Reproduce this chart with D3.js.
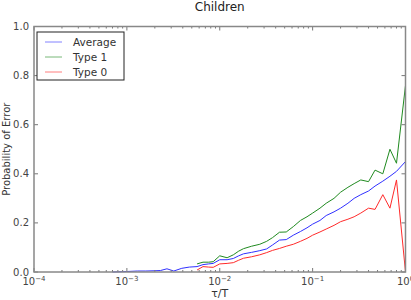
<!DOCTYPE html>
<html>
<head>
<meta charset="utf-8">
<script src="https://cdn.jsdelivr.net/npm/d3@7"></script>
<style>
  html, body { margin: 0; padding: 0; background: #fff; }
  svg { display: block; font-family: "DejaVu Sans", sans-serif; }
  .tick text { fill: #444; }
</style>
</head>
<body>
<svg id="chart" width="411" height="300"></svg>
<script>
const title = "Children";
const xLabel = "\u03c4/T";
const yLabel = "Probability of Error";
const xTickExps = [-4, -3, -2, -1, 0];
const yTicks = [0, 0.2, 0.4, 0.6, 0.8, 1.0];

const avgX = [7e-4, 1e-3, 1.3e-3, 1.6e-3, 2e-3, 2.3e-3, 2.7e-3, 3.2e-3, 3.9e-3, 4.7e-3,
  5.7e-3, 6.6e-3, 7.6e-3, 8.5e-3, 1e-2, 1.2e-2, 1.4e-2, 1.6e-2, 1.8e-2, 2.2e-2,
  2.7e-2, 3.2e-2, 3.7e-2, 4.4e-2, 5.2e-2, 6.2e-2, 7.4e-2, 8.7e-2, 0.1, 0.12,
  0.14, 0.17, 0.2, 0.24, 0.28, 0.33, 0.4, 0.47, 0.57, 0.68, 0.8, 1.0];
const avgY = [0, 0.002, 0.004, 0.004, 0.005, 0.006, 0.013, 0.004, 0.015, 0.02,
  0.022, 0.03, 0.033, 0.035, 0.05, 0.05, 0.055, 0.066, 0.074, 0.08,
  0.087, 0.094, 0.11, 0.13, 0.132, 0.15, 0.165, 0.18, 0.195, 0.21,
  0.23, 0.245, 0.26, 0.28, 0.3, 0.315, 0.33, 0.35, 0.37, 0.39, 0.41, 0.45];

const typeX = [5.7e-3, 6.6e-3, 7.6e-3, 8.5e-3, 1e-2, 1.2e-2, 1.4e-2, 1.6e-2, 1.8e-2, 2.2e-2,
  2.7e-2, 3.2e-2, 3.7e-2, 4.4e-2, 5.2e-2, 6.2e-2, 7.4e-2, 8.7e-2, 0.1, 0.12,
  0.14, 0.17, 0.2, 0.24, 0.28, 0.33, 0.4, 0.47, 0.57, 0.68, 0.8, 1.0];
const type1Y = [0.033, 0.04, 0.04, 0.042, 0.066, 0.058, 0.07, 0.085, 0.095, 0.105,
  0.113, 0.125, 0.14, 0.162, 0.163, 0.185, 0.21, 0.225, 0.24, 0.26,
  0.28, 0.3, 0.325, 0.345, 0.36, 0.375, 0.368, 0.415, 0.4, 0.5, 0.443, 0.76];
const type0Y = [0.008, 0.022, 0.02, 0.019, 0.033, 0.035, 0.038, 0.048, 0.056, 0.062,
  0.07, 0.079, 0.088, 0.096, 0.105, 0.113, 0.125, 0.137, 0.15, 0.163,
  0.175, 0.19, 0.205, 0.215, 0.225, 0.24, 0.26, 0.255, 0.315, 0.26, 0.375, 0.0];

const series = [
  { name: "Average", color: "#3030ff", xs: avgX, ys: avgY },
  { name: "Type 1", color: "#1f8a1f", xs: typeX, ys: type1Y },
  { name: "Type 0", color: "#ff2a2a", xs: typeX, ys: type0Y }
];

const svg = d3.select("#chart");
const margin = { top: 26.5, right: 5.5, bottom: 28, left: 34 };
const width = 411, height = 300;

const x = d3.scaleLog()
  .domain([1e-4, 1])
  .range([margin.left, width - margin.right]);
const y = d3.scaleLinear()
  .domain([0, 1])
  .range([height - margin.bottom, margin.top]);

const minorTicks = [];
for (let e = -4; e < 0; e++) {
  for (let k = 2; k <= 9; k++) minorTicks.push(k * Math.pow(10, e));
}

// lines
const line = d3.line()
  .x((d) => x(d[0]))
  .y((d) => y(d[1]));

svg.append("g")
  .selectAll("path")
  .data(series)
  .join("path")
  .attr("fill", "none")
  .attr("stroke", (d) => d.color)
  .attr("stroke-width", 1)
  .attr("d", (d) => line(d.xs.map((v, i) => [v, d.ys[i]])));

// ticks (inward, all four sides)
const tickColor = "#777";
const axes = svg.append("g");
const xMajor = xTickExps.map((e) => Math.pow(10, e));

[y(0), y(1)].forEach((yy, side) => {
  const dir = side === 0 ? -1 : 1;
  axes.append("g").selectAll("line").data(xMajor).join("line")
    .attr("x1", (d) => x(d)).attr("x2", (d) => x(d))
    .attr("y1", yy).attr("y2", yy + dir * 4)
    .attr("stroke", tickColor);
  axes.append("g").selectAll("line").data(minorTicks).join("line")
    .attr("x1", (d) => x(d)).attr("x2", (d) => x(d))
    .attr("y1", yy).attr("y2", yy + dir * 2)
    .attr("stroke", tickColor);
});
[x(1e-4), x(1)].forEach((xx, side) => {
  const dir = side === 0 ? 1 : -1;
  axes.append("g").selectAll("line").data(yTicks).join("line")
    .attr("x1", xx).attr("x2", xx + dir * 4)
    .attr("y1", (d) => y(d)).attr("y2", (d) => y(d))
    .attr("stroke", tickColor);
});

// frame
svg.append("rect")
  .attr("x", x(1e-4))
  .attr("y", y(1))
  .attr("width", x(1) - x(1e-4))
  .attr("height", y(0) - y(1))
  .attr("fill", "none")
  .attr("stroke", "#888")
  .attr("stroke-width", 1.5);

// tick labels
const yLabels = svg.append("g")
  .selectAll("text")
  .data(yTicks)
  .join("text")
  .attr("x", x(1e-4) - 5)
  .attr("y", (d) => y(d) + 3.5)
  .attr("text-anchor", "end")
  .attr("font-size", 10)
  .attr("fill", "#444")
  .text((d) => d.toFixed(1));

const xLabels = svg.append("g")
  .selectAll("text")
  .data(xTickExps)
  .join("text")
  .attr("x", (d) => x(Math.pow(10, d)))
  .attr("y", y(0) + 13)
  .attr("text-anchor", "middle")
  .attr("font-size", 10)
  .attr("fill", "#444");
xLabels.append("tspan").text("10");
xLabels.append("tspan")
  .attr("dy", -4)
  .attr("font-size", 7)
  .text((d) => (d < 0 ? "\u2212" + Math.abs(d) : String(d)));

// axis titles
svg.append("text")
  .attr("x", (x(1e-4) + x(1)) / 2)
  .attr("y", 297)
  .attr("text-anchor", "middle")
  .attr("font-size", 11)
  .attr("fill", "#333")
  .text(xLabel);

svg.append("text")
  .attr("transform", `translate(10, ${(y(0) + y(1)) / 2}) rotate(-90)`)
  .attr("text-anchor", "middle")
  .attr("font-size", 10)
  .attr("fill", "#333")
  .text(yLabel);

svg.append("text")
  .attr("x", (x(1e-4) + x(1)) / 2)
  .attr("y", 11)
  .attr("text-anchor", "middle")
  .attr("font-size", 12)
  .attr("fill", "#222")
  .text(title);

// legend
const legend = svg.append("g").attr("transform", "translate(37, 32)");
legend.append("rect")
  .attr("width", 87)
  .attr("height", 48)
  .attr("fill", "#fff")
  .attr("stroke", "#222")
  .attr("stroke-width", 1);
const items = legend.selectAll("g.item")
  .data(series)
  .join("g")
  .attr("class", "item")
  .attr("transform", (d, i) => `translate(0, ${10 + i * 15})`);
items.append("line")
  .attr("x1", 8).attr("x2", 25)
  .attr("stroke", (d) => d.color)
  .attr("stroke-opacity", 0.6);
items.append("text")
  .attr("x", 36)
  .attr("y", 4)
  .attr("font-size", 10.5)
  .attr("fill", "#333")
  .text((d) => d.name);
</script>
</body>
</html>
